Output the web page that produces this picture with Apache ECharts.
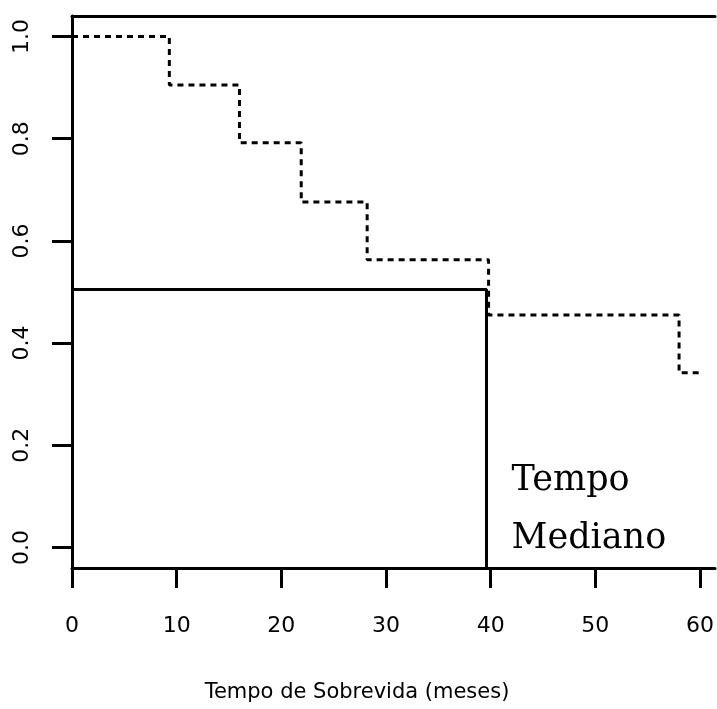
<!DOCTYPE html>
<html>
<head>
<meta charset="utf-8">
<script src="https://cdn.jsdelivr.net/npm/echarts@6/dist/echarts.min.js"></script>
<style>
  html, body { margin: 0; padding: 0; background: #ffffff; }
  #chart { width: 717px; height: 709px; }
</style>
</head>
<body>
<div id="chart"></div>
<script>
// Kaplan-Meier survival estimate (dotted step curve)
const eventTimes = [0, 9.3, 16.0, 21.9, 28.2, 39.8, 58.0, 60.0];
const survival   = [1.0, 0.905, 0.792, 0.676, 0.563, 0.455, 0.342, 0.342];

// Median survival time marker
const medianTime = 39.6;
const medianLevel = 0.505;

// Axis ticks
const xTickValues = [0, 10, 20, 30, 40, 50, 60];
const yTickValues = [0, 0.2, 0.4, 0.6, 0.8, 1.0];

// Text
const xAxisTitle = 'Tempo de Sobrevida (meses)';
const annotationText = ['Tempo', 'Mediano'];
const annotationX = [42.0, 42.0];
const annotationY = [0.13, 0.017];

const xRange = [0, 61.43];
const yRange = [-0.04, 1.04];

const chart = echarts.init(document.getElementById('chart'), null, { renderer: 'canvas' });

const kmData = eventTimes.map((t, i) => [t, survival[i]]);
const medianData = [
  [0, medianLevel],
  [medianTime, medianLevel],
  [medianTime, yRange[0]]
];
const annotationData = annotationText.map((s, i) => ({ value: [annotationX[i], annotationY[i]], name: s }));

const black = '#000000';
const sansFont = 'DejaVu Sans';
const frameLine = { color: black, width: 3 };

chart.setOption({
  animation: false,
  backgroundColor: '#ffffff',
  grid: { left: 72, top: 16, right: 0, height: 552, show: false },
  xAxis: [
    {
      type: 'value', position: 'bottom', min: xRange[0], max: xRange[1],
      splitLine: { show: false },
      axisLine: { show: true, onZero: false, lineStyle: frameLine },
      axisTick: { show: true, inside: false, length: 20, lineStyle: frameLine, customValues: xTickValues },
      axisLabel: {
        show: true, margin: 47, color: black, fontFamily: sansFont, fontSize: 22,
        customValues: xTickValues, formatter: v => String(v)
      }
    },
    {
      // top edge of the plot frame
      type: 'value', position: 'top', min: xRange[0], max: xRange[1],
      splitLine: { show: false },
      axisLine: { show: true, onZero: false, lineStyle: frameLine },
      axisTick: { show: false },
      axisLabel: { show: false }
    }
  ],
  yAxis: {
    type: 'value', min: yRange[0], max: yRange[1],
    splitLine: { show: false },
    axisLine: { show: true, onZero: false, lineStyle: frameLine },
    axisTick: { show: true, inside: false, length: 20, lineStyle: frameLine, customValues: yTickValues },
    axisLabel: {
      show: true, margin: 39, rotate: 90, color: black, fontFamily: sansFont, fontSize: 22,
      customValues: yTickValues, formatter: v => v.toFixed(1)
    }
  },
  graphic: [{
    type: 'text', x: 357, y: 693,
    style: {
      text: xAxisTitle, fill: black, font: '21px "DejaVu Sans"',
      align: 'center', verticalAlign: 'middle'
    }
  }],
  series: [
    {
      type: 'line', data: kmData, step: 'end', showSymbol: false, symbol: 'none',
      silent: true,
      lineStyle: { color: black, width: 3, type: [6, 5] }
    },
    {
      type: 'line', data: medianData, showSymbol: false, symbol: 'none',
      silent: true,
      lineStyle: { color: black, width: 3, type: 'solid' }
    },
    {
      type: 'scatter', data: annotationData, symbolSize: 0, silent: true,
      label: {
        show: true, position: [0, 0], align: 'left', verticalAlign: 'middle',
        formatter: p => p.name, color: black, opacity: 1,
        fontFamily: 'DejaVu Serif', fontSize: 35
      }
    }
  ]
});
</script>
</body>
</html>
